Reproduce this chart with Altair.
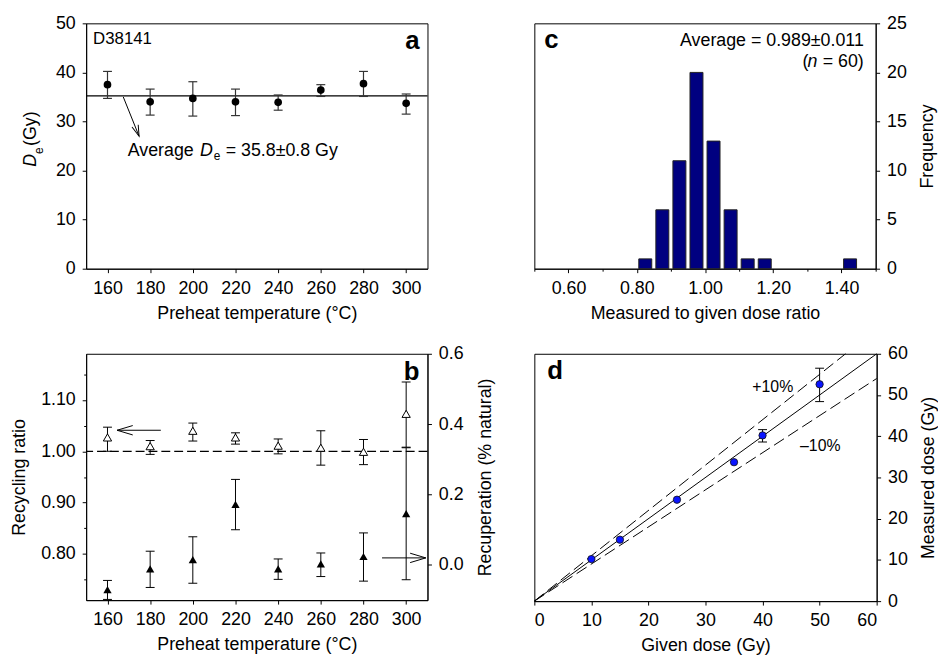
import altair as alt
import pandas as pd

FONT = "Liberation Sans"

# ---------------- Panel a : De vs preheat ----------------
temps = [160, 180, 200, 220, 240, 260, 280, 300]
de_val = [37.5, 34.0, 34.7, 34.0, 33.9, 36.4, 37.7, 33.7]
de_lo = [34.7, 31.3, 31.1, 31.2, 32.3, 35.1, 35.1, 31.5]
de_hi = [40.2, 36.6, 38.1, 36.6, 35.4, 37.5, 40.2, 35.6]
de_avg_line = [35.2]
de_arrow_from = [167.4, 35.0]
de_arrow_to = [174.8, 27.0]

# ---------------- Panel b : recycling / recuperation ----------------
rec_val = [1.027, 1.010, 1.040, 1.027, 1.011, 1.007, 0.999, 1.073]
rec_lo = [1.000, 0.994, 1.020, 1.014, 0.995, 0.973, 0.974, 1.008]
rec_hi = [1.047, 1.021, 1.055, 1.036, 1.024, 1.040, 1.023, 1.135]
recup_val = [-0.070, -0.011, 0.015, 0.172, -0.011, 0.003, 0.024, 0.146]
recup_lo = [-0.098, -0.064, -0.052, 0.100, -0.041, -0.033, -0.046, -0.042]
recup_hi = [-0.044, 0.039, 0.080, 0.243, 0.017, 0.034, 0.091, 0.333]
left_arrow = [185.0, 164.5, 1.041]
right_arrow = [288.7, 309.2, 0.020]

# ---------------- Panel c : dose recovery histogram ----------------
ratio_bins = [0.825, 0.875, 0.925, 0.975, 1.025, 1.075, 1.125, 1.175, 1.425]
ratio_counts = [1, 6, 11, 20, 13, 6, 1, 1, 1]

# ---------------- Panel d : measured vs given dose ----------------
given = [10, 15, 25, 35, 40, 50]
measured = [10.2, 14.9, 24.6, 33.7, 40.2, 52.6]
err_given = [40, 50]
err_lo = [38.6, 48.4]
err_hi = [41.6, 56.5]
ref_slopes = [1.0, 1.1, 0.9]

W, H = 345, 248
CAP = 4.5
VPATH = "M-0.3,-1L0,0L0.3,-1"
one = pd.DataFrame({"k": [0]})


def txt(s, x, y, size=18, align="left", style="normal", weight="normal",
        angle=0, baseline="alphabetic"):
    kw = dict(font=FONT, fontSize=size, align=align, fontStyle=style,
              fontWeight=weight, baseline=baseline, color="black")
    if angle:
        kw["angle"] = angle
    return alt.Chart(one).mark_text(**kw).encode(
        x=alt.value(x), y=alt.value(y), text=alt.value(s))


# ---------- a ----------
dfa = pd.DataFrame({"t": temps, "v": de_val, "lo": de_lo, "hi": de_hi})
sxa = alt.Scale(domain=[150, 310], nice=False, zero=False)
axa = alt.Axis(values=temps, title="Preheat temperature (°C)", titlePadding=7)
sya = alt.Scale(domain=[0, 50], nice=False)
aya = alt.Axis(values=[0, 10, 20, 30, 40, 50], title=None)


def XA(f):
    return alt.X(f"{f}:Q", scale=sxa, axis=axa)


def YA(f):
    return alt.Y(f"{f}:Q", scale=sya, axis=aya)


a_avg = alt.Chart(pd.DataFrame({"avg": de_avg_line})).mark_rule(
    color="black", strokeWidth=1.3).encode(y=YA("avg"))
a_err = alt.Chart(dfa).mark_rule(color="#333", strokeWidth=1.2).encode(
    x=XA("t"), y=YA("lo"), y2="hi:Q")
a_cap_hi = alt.Chart(dfa).mark_rule(color="#333", strokeWidth=1.2,
                                    xOffset=-CAP, x2Offset=CAP).encode(
    x=XA("t"), x2="t:Q", y=YA("hi"))
a_cap_lo = alt.Chart(dfa).mark_rule(color="#333", strokeWidth=1.2,
                                    xOffset=-CAP, x2Offset=CAP).encode(
    x=XA("t"), x2="t:Q", y=YA("lo"))
a_pts = alt.Chart(dfa).mark_circle(color="black", size=60, opacity=1).encode(
    x=XA("t"), y=YA("v"))
dfar = pd.DataFrame({"x1": [de_arrow_from[0]], "y1": [de_arrow_from[1]],
                     "x2": [de_arrow_to[0]], "y2": [de_arrow_to[1]]})
a_shaft = alt.Chart(dfar).mark_rule(color="black", strokeWidth=1).encode(
    x=XA("x1"), y=YA("y1"), x2="x2:Q", y2="y2:Q")
a_head = alt.Chart(dfar).mark_point(shape=VPATH, size=500, angle=339,
                                    color="black", strokeWidth=1,
                                    filled=False, opacity=1).encode(
    x=XA("x2"), y=YA("y2"))

panel_a = alt.layer(
    a_avg, a_err, a_cap_hi, a_cap_lo, a_pts, a_shaft, a_head,
    txt("D38141", 7, 21, size=17),
    txt("a", 337, 26, size=26, weight="bold", align="right"),
    txt("Average", 42, 134),
    txt("D", 115, 134, style="italic"),
    txt("e", 129, 138, size=12),
    txt("= 35.8±0.8 Gy", 141, 134),
    txt("D", -51, 145, size=18, style="italic", angle=270),
    txt("e", -44, 132, size=12, angle=270),
    txt("(Gy)", -51, 124, size=18, angle=270),
).properties(width=W, height=H)

# ---------- b ----------
dfb = pd.DataFrame({"t": temps, "rv": rec_val, "rlo": rec_lo, "rhi": rec_hi,
                    "pv": recup_val, "plo": recup_lo, "phi": recup_hi})
sxb = alt.Scale(domain=[150, 310], nice=False, zero=False)
axb = alt.Axis(values=temps, title="Preheat temperature (°C)", titlePadding=7)
syl = alt.Scale(domain=[0.71, 1.19], nice=False, zero=False)
MAJ_B = "abs(datum.value*10 - round(datum.value*10)) < 0.001"
ayl = alt.Axis(values=[0.75, 0.8, 0.85, 0.9, 0.95, 1.0, 1.05, 1.1, 1.15],
               labelExpr=MAJ_B + " ? format(datum.value, '.2f') : ''",
               tickSize={"condition": {"test": MAJ_B, "value": 4}, "value": 2.5},
               title="Recycling ratio", titlePadding=12, orient="left")
syr = alt.Scale(domain=[-0.1, 0.6], nice=False, zero=False)
ayr = alt.Axis(values=[0, 0.2, 0.4, 0.6], format=".1f", orient="right",
               title="Recuperation (% natural)", titleAngle=270,
               titleBaseline="top", titlePadding=14)


def XB(f):
    return alt.X(f"{f}:Q", scale=sxb, axis=axb)


def YL(f):
    return alt.Y(f"{f}:Q", scale=syl, axis=ayl)


def YR(f):
    return alt.Y(f"{f}:Q", scale=syr, axis=ayr)


b_dash = alt.Chart(pd.DataFrame({"one": [1.0]})).mark_rule(
    color="black", strokeWidth=1.2, strokeDash=[9, 4]).encode(y=YL("one"))
b_err_l = alt.Chart(dfb).mark_rule(color="black", strokeWidth=1).encode(
    x=XB("t"), y=YL("rlo"), y2="rhi:Q")
b_caph_l = alt.Chart(dfb).mark_rule(color="black", strokeWidth=1,
                                    xOffset=-CAP, x2Offset=CAP).encode(
    x=XB("t"), x2="t:Q", y=YL("rhi"))
b_capl_l = alt.Chart(dfb).mark_rule(color="black", strokeWidth=1,
                                    xOffset=-CAP, x2Offset=CAP).encode(
    x=XB("t"), x2="t:Q", y=YL("rlo"))
b_open = alt.Chart(dfb).mark_point(shape="triangle-up", size=70, filled=True,
                                   fill="white", stroke="black",
                                   strokeWidth=1, opacity=1).encode(
    x=XB("t"), y=YL("rv"))
dfla = pd.DataFrame({"x1": [left_arrow[0]], "x2": [left_arrow[1]],
                     "y": [left_arrow[2]]})
b_larr = alt.Chart(dfla).mark_rule(color="black", strokeWidth=1).encode(
    x=XB("x1"), x2="x2:Q", y=YL("y"))
b_lhead = alt.Chart(dfla).mark_point(shape=VPATH, size=1000, angle=90,
                                     color="black", strokeWidth=1,
                                     filled=False, opacity=1).encode(
    x=XB("x2"), y=YL("y"))
left_group = alt.layer(b_dash, b_err_l, b_caph_l, b_capl_l, b_open,
                       b_larr, b_lhead)

b_err_r = alt.Chart(dfb).mark_rule(color="black", strokeWidth=1).encode(
    x=XB("t"), y=YR("plo"), y2="phi:Q")
b_caph_r = alt.Chart(dfb).mark_rule(color="black", strokeWidth=1,
                                    xOffset=-CAP, x2Offset=CAP).encode(
    x=XB("t"), x2="t:Q", y=YR("phi"))
b_capl_r = alt.Chart(dfb).mark_rule(color="black", strokeWidth=1,
                                    xOffset=-CAP, x2Offset=CAP).encode(
    x=XB("t"), x2="t:Q", y=YR("plo"))
b_fill = alt.Chart(dfb).mark_point(shape="triangle-up", size=70, filled=True,
                                   color="black", opacity=1).encode(
    x=XB("t"), y=YR("pv"))
dfra = pd.DataFrame({"x1": [right_arrow[0]], "x2": [right_arrow[1]],
                     "y": [right_arrow[2]]})
b_rarr = alt.Chart(dfra).mark_rule(color="black", strokeWidth=1).encode(
    x=XB("x1"), x2="x2:Q", y=YR("y"))
b_rhead = alt.Chart(dfra).mark_point(shape=VPATH, size=1000, angle=270,
                                     color="black", strokeWidth=1,
                                     filled=False, opacity=1).encode(
    x=XB("x2"), y=YR("y"))
right_group = alt.layer(b_err_r, b_caph_r, b_capl_r, b_fill, b_rarr, b_rhead)

panel_b = alt.layer(
    left_group, right_group,
    txt("b", 337, 26, size=26, weight="bold", align="right"),
).resolve_scale(y="independent").properties(width=W, height=249)

# ---------- c ----------
dfc = pd.DataFrame({"c": ratio_bins, "n": ratio_counts})
dfc["lo"] = dfc["c"] - 0.019
dfc["hi"] = dfc["c"] + 0.019
dfc["z"] = 0
sxc = alt.Scale(domain=[0.5, 1.5], nice=False, zero=False)
MAJ_C = "indexof(['0.60','0.80','1.00','1.20','1.40'], format(datum.value, '.2f')) >= 0"
axc = alt.Axis(values=[0.5, 0.6, 0.7, 0.8, 0.9, 1.0, 1.1, 1.2, 1.3, 1.4, 1.5],
               labelExpr=MAJ_C + " ? format(datum.value, '.2f') : ''",
               tickSize={"condition": {"test": MAJ_C, "value": 4}, "value": 2.5},
               title="Measured to given dose ratio", titlePadding=7)
syc = alt.Scale(domain=[0, 25], nice=False)
ayc = alt.Axis(values=[0, 5, 10, 15, 20, 25], orient="right",
               title="Frequency", titleAngle=270, titleBaseline="top",
               titlePadding=12)
c_bars = alt.Chart(dfc).mark_bar(color="#000080", stroke="#222",
                                 strokeWidth=1).encode(
    x=alt.X("lo:Q", scale=sxc, axis=axc), x2="hi:Q",
    y=alt.Y("n:Q", scale=syc, axis=ayc), y2="z:Q")
panel_c = alt.layer(
    c_bars,
    txt("c", 10, 25, size=26, weight="bold"),
    txt("Average = 0.989±0.011", 333, 23, align="right"),
    txt(" = 60)", 333, 44, align="right"),
    txt("n", 286, 44, style="italic", align="right"),
    txt("(", 277, 44, align="right"),
).properties(width=W, height=H)

# ---------- d ----------
dfd = pd.DataFrame({"g": given, "m": measured})
dfe = pd.DataFrame({"g": err_given, "lo": err_lo, "hi": err_hi})
xe = [min(60.0, 60.0 / s) for s in ref_slopes]
dfl = pd.DataFrame({"s": ref_slopes, "x0": 0.0, "y0": 0.0, "x1": xe,
                    "y1": [s * x for s, x in zip(ref_slopes, xe)]})
sxd = alt.Scale(domain=[0, 60], nice=False)
axd = alt.Axis(values=[0, 10, 20, 30, 40, 50, 60], title="Given dose (Gy)",
               titlePadding=7)
syd = alt.Scale(domain=[0, 60], nice=False)
ayd = alt.Axis(values=[0, 10, 20, 30, 40, 50, 60], orient="right",
               title="Measured dose (Gy)", titleAngle=270,
               titleBaseline="top", titlePadding=12)


def XD(f):
    return alt.X(f"{f}:Q", scale=sxd, axis=axd)


def YD(f):
    return alt.Y(f"{f}:Q", scale=syd, axis=ayd)


d_solid = alt.Chart(dfl[dfl["s"] == 1.0]).mark_rule(
    color="black", strokeWidth=1).encode(
    x=XD("x0"), y=YD("y0"), x2="x1:Q", y2="y1:Q")
d_dash = alt.Chart(dfl[dfl["s"] != 1.0]).mark_rule(
    color="black", strokeWidth=1, strokeDash=[12, 5]).encode(
    x=XD("x0"), y=YD("y0"), x2="x1:Q", y2="y1:Q")
d_err = alt.Chart(dfe).mark_rule(color="black", strokeWidth=1).encode(
    x=XD("g"), y=YD("lo"), y2="hi:Q")
d_caph = alt.Chart(dfe).mark_rule(color="black", strokeWidth=1,
                                  xOffset=-CAP, x2Offset=CAP).encode(
    x=XD("g"), x2="g:Q", y=YD("hi"))
d_capl = alt.Chart(dfe).mark_rule(color="black", strokeWidth=1,
                                  xOffset=-CAP, x2Offset=CAP).encode(
    x=XD("g"), x2="g:Q", y=YD("lo"))
d_pts = alt.Chart(dfd).mark_point(shape="circle", size=55, filled=True,
                                  fill="#0a14ff", stroke="#111",
                                  strokeWidth=0.8, opacity=1).encode(
    x=XD("g"), y=YD("m"))
panel_d = alt.layer(
    d_solid, d_dash, d_err, d_caph, d_capl, d_pts,
    txt("d", 13, 25, size=26, weight="bold"),
    txt("+10%", 241, 39, size=16, align="center"),
    txt("\u201310%", 289, 98, size=16, align="center"),
).properties(width=W + 1, height=250)

chart = alt.concat(
    panel_a, panel_c, panel_b, panel_d, columns=2,
    spacing={"row": 86, "column": 108}, bounds="flush",
).properties(
    padding={"left": 2, "top": 2, "right": 0, "bottom": 0}
).configure_view(
    stroke="black", strokeWidth=1
).configure_axis(
    labelFont=FONT, labelFontSize=18, titleFont=FONT, titleFontSize=18,
    titleFontWeight="normal", tickSize=4, labelPadding=7,
    domainColor="black", tickColor="black", labelColor="black",
    titleColor="black", grid=False, domainWidth=1, tickWidth=1,
)

chart.save("out.html", embed_options={"renderer": "svg", "actions": False})
